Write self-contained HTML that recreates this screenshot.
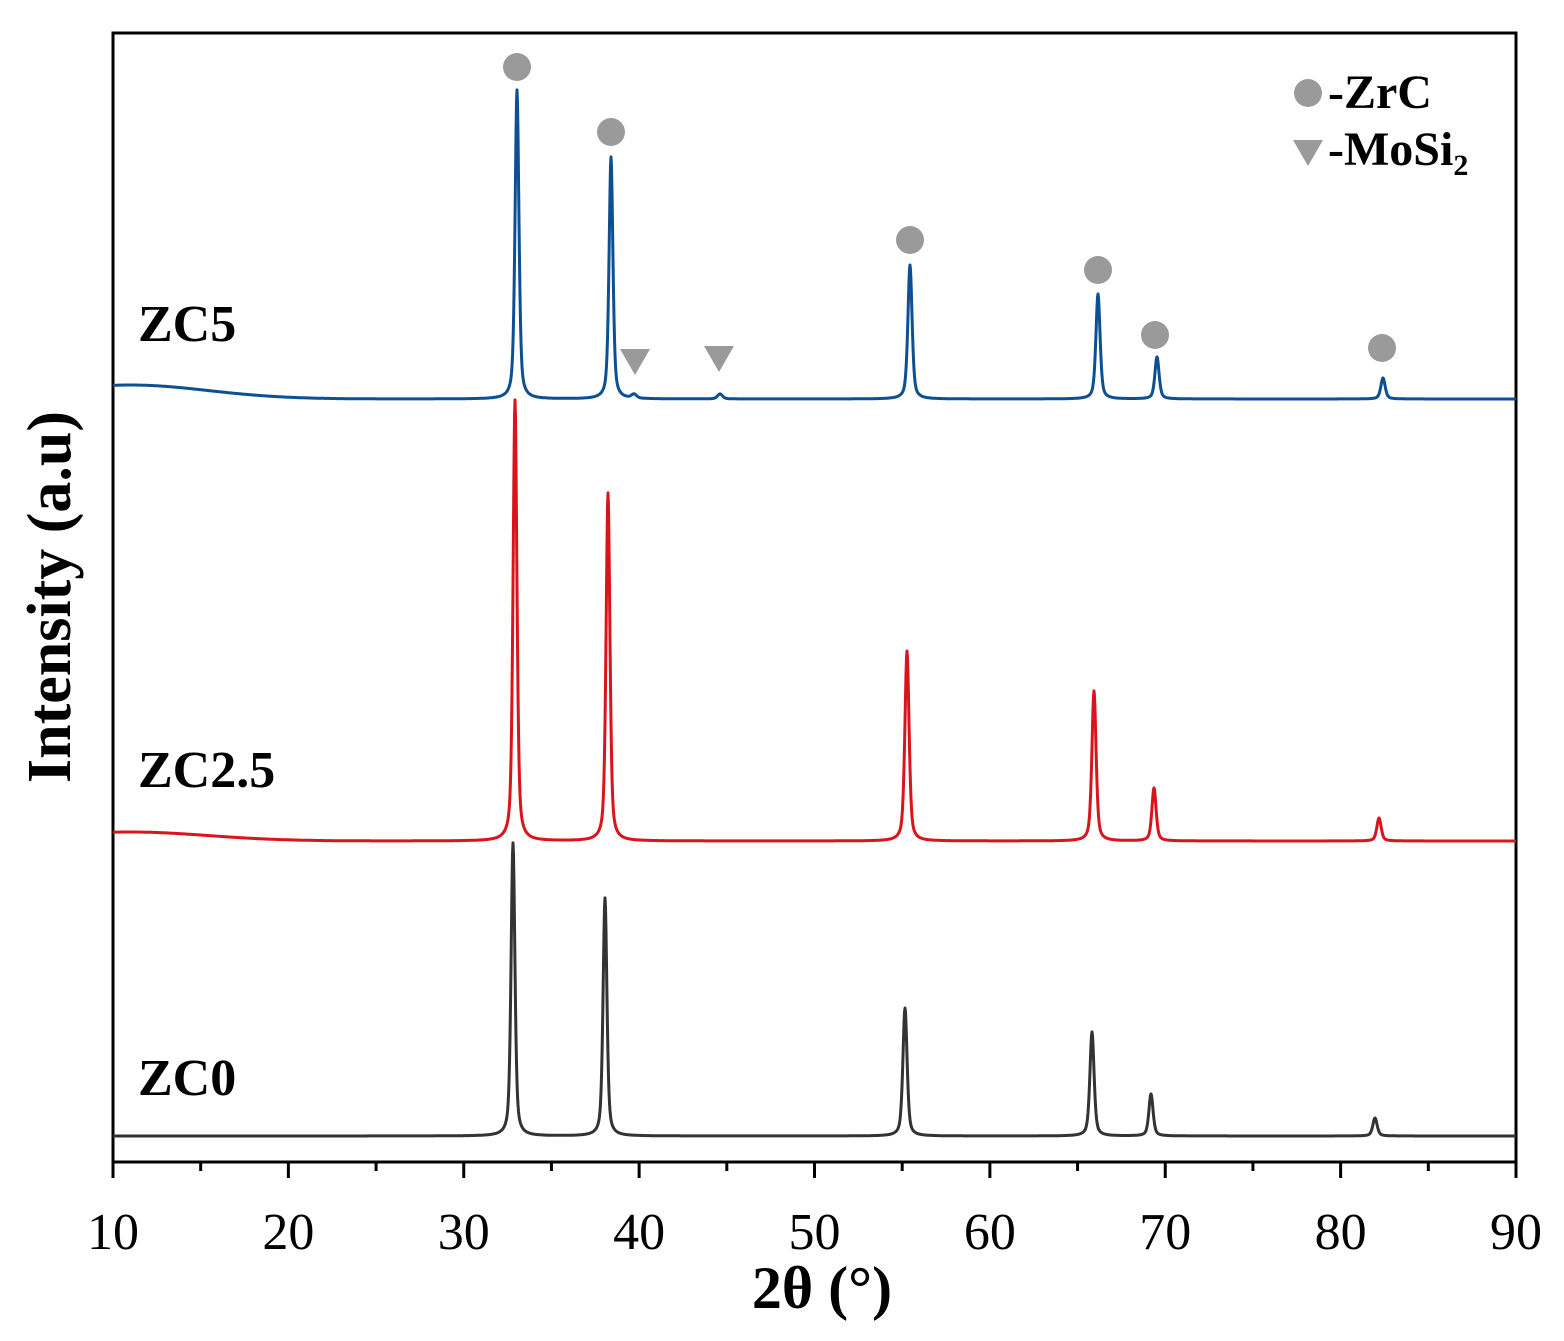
<!DOCTYPE html>
<html><head><style>body{margin:0;background:#fff}svg{display:block}</style></head>
<body>
<svg id="s" width="1564" height="1341" xmlns="http://www.w3.org/2000/svg" font-family="'Liberation Serif',serif">
<rect x="113" y="33" width="1403" height="1129" fill="none" stroke="#000" stroke-width="3"/>
<g id="ticks" stroke="#000" stroke-width="3"></g>
<g id="lab" font-size="52" text-anchor="middle"></g>
<g id="curves" fill="none" stroke-width="3" stroke-linejoin="round"></g>
<g fill="#9a9a9a">
<circle cx="517" cy="67" r="14"/><circle cx="611" cy="132" r="14"/><circle cx="910" cy="240" r="14"/>
<circle cx="1098" cy="270" r="14"/><circle cx="1155" cy="335" r="14"/><circle cx="1382" cy="348" r="14"/>
<polygon points="620,349 650,349 635,375"/><polygon points="704,346 734,346 719,372"/>
<circle cx="1308" cy="93" r="14"/><polygon points="1293,140 1323,140 1308,166"/>
</g>
<g font-weight="bold" font-size="48">
<text x="1328" y="108">-ZrC</text>
<text x="1328" y="165">-MoSi<tspan font-size="30" dy="10">2</tspan></text>
</g>
<g font-weight="bold" font-size="52">
<text x="138" y="341">ZC5</text>
<text x="138" y="787">ZC2.5</text>
<text x="138" y="1095">ZC0</text>
</g>
<text x="822" y="1308" font-size="60" font-weight="bold" text-anchor="middle">2θ (°)</text>
<text transform="translate(70,597) rotate(-90)" font-size="62" font-weight="bold" text-anchor="middle">Intensity (a.u)</text>
</svg>
<script>
const X=v=>113+(v-10)*17.5375;
let t='',l='';
for(let v=10;v<=90;v+=5){const x=X(v);t+=`<line x1="${x}" y1="1162" x2="${x}" y2="${v%10?1171:1178}"/>`;if(v%10==0)l+=`<text x="${x}" y="1249">${v}</text>`;}
document.getElementById('ticks').innerHTML=t;document.getElementById('lab').innerHTML=l;
function curve(base,peaks,hump,color){
 let d='';
 for(let px=113;px<=1516;px+=0.5){
  let y=base;
  if(hump) y-=hump*Math.exp(-Math.pow((px-130)/110,2));
  for(const [x,top,g] of peaks){const dx=(px-x)/g;y-=(base-top)*(0.5/(1+dx*dx)+0.5*Math.exp(-dx*dx*0.7));}
  d+=(d?'L':'M')+px+' '+y.toFixed(1);
 }
 return `<path d="${d}" stroke="${color}"/>`;
}
const c=document.getElementById('curves');
c.innerHTML=
curve(1136,[[513,843,2.3],[605,898,2.3],[905,1008,2.5],[1092,1032,2.5],[1151,1094,2.5],[1375,1118,2.6]],0,'#333')+
curve(841,[[515,400,2.3],[608,493,2.3],[907,651,2.5],[1094,691,2.5],[1154,788,2.5],[1379,818,2.6]],9,'#d9141c')+
curve(399,[[517,90,2.3],[611,157,2.3],[910,265,2.5],[1098,294,2.5],[1157,357,2.5],[1383,378,2.6],[634,395,3],[720,394,3]],14,'#0d4f93');
</script>
</body></html>
